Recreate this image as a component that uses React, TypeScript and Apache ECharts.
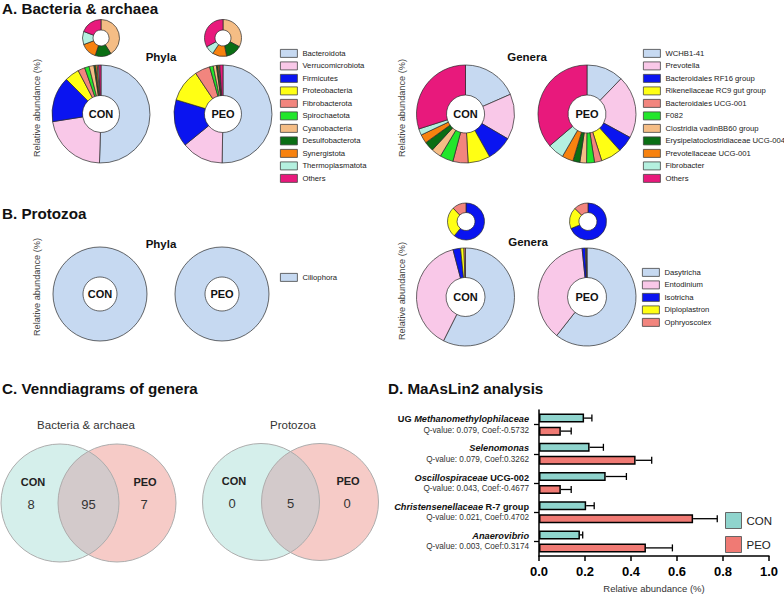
import React, { useEffect, useRef } from "react";
import * as echarts from "echarts";

const FONT = 'Arial, "Liberation Sans", Helvetica, sans-serif';

// ---------- Panel A: bacteria & archaea ----------
const phylaNames = ["Bacteroidota", "Verrucomicrobiota", "Firmicutes", "Proteobacteria", "Fibrobacterota", "Spirochaetota", "Cyanobacteria", "Desulfobacterota", "Synergistota", "Thermoplasmatota", "Others"];
const phylaCON = [50.5, 22.0, 15.0, 4.8, 2.3, 1.5, 1.6, 0.55, 0.55, 0.45, 0.75];
const phylaPEO = [50.3, 13.8, 15.6, 10.9, 5.0, 1.2, 1.05, 0.45, 0.4, 0.25, 1.05];
const phylaInsetFrom = 6;

const generaNames = ["WCHB1-41", "Prevotella", "Bacteroidales RF16 group", "Rikenellaceae RC9 gut group", "Bacteroidales UCG-001", "F082", "Clostridia vadinBB60 group", "Erysipelatoclostridiaceae UCG-004", "Prevotellaceae UCG-001", "Fibrobacter", "Others"];
const generaCON = [18.4, 15.0, 8.4, 7.3, 5.0, 4.4, 3.3, 3.2, 2.9, 2.1, 29.9];
const generaPEO = [12.2, 20.7, 5.4, 6.8, 2.4, 2.6, 2.2, 2.3, 3.7, 5.4, 36.2];

const palette = ["#c6d9f1", "#f9c8e8", "#0a14f0", "#ffff14", "#f2857e", "#22e62b", "#f5bd85", "#0a6e14", "#f7820f", "#b4f0df", "#e8197c"];

// ---------- Panel B: protozoa ----------
const protoPhylaNames = ["Ciliophora"];
const protoPhylaCON = [100];
const protoPhylaPEO = [100];
const protoGeneraNames = ["Dasytricha", "Entodinium", "Isotricha", "Diploplastron", "Ophryoscolex"];
const protoGeneraCON = [57.4, 38.5, 2.5, 1.1, 0.5];
const protoGeneraPEO = [60.6, 37.8, 1.1, 0.3, 0.2];
const protoInsetFrom = 2;
const protoPalette = ["#c6d9f1", "#f9c8e8", "#0a14f0", "#ffff14", "#f2857e"];

// ---------- Panel C: Venn ----------
const vennGroups = ["CON", "PEO"];
const vennBacteria = [8, 95, 7];
const vennProtozoa = [0, 5, 0];

// ---------- Panel D: MaAsLin2 ----------
const taxaLead = ["UG ", "", "", "", ""];
const taxaItalic = ["Methanomethylophilaceae", "Selenomonas", "Oscillospiraceae", "Christensenellaceae", "Anaerovibrio"];
const taxaTail = ["", "", " UCG-002", " R-7 group", ""];
const qValues = ["0.079", "0.079", "0.043", "0.021", "0.003"];
const coefs = ["-0.5732", "0.3262", "-0.4677", "0.4702", "0.3174"];
const conMean = [0.196, 0.22, 0.29, 0.205, 0.178];
const conErr = [0.034, 0.06, 0.09, 0.035, 0.012];
const peoMean = [0.095, 0.42, 0.095, 0.67, 0.465];
const peoErr = [0.045, 0.07, 0.045, 0.105, 0.115];

const CON_COLOR = "#8fd4cd";
const PEO_COLOR = "#f07a74";

function pie(center: number[], radius: number[], names: string[], values: number[], colors: string[]) {
  return {
    type: "pie",
    center,
    radius,
    startAngle: 90,
    clockwise: true,
    silent: true,
    avoidLabelOverlap: false,
    minAngle: 0,
    label: { show: false },
    labelLine: { show: false },
    emphasis: { disabled: true },
    itemStyle: { borderColor: "#2a2a2a", borderWidth: 0.7 },
    data: names.map((n, i) => ({ name: n, value: values[i], itemStyle: { color: colors[i] } })),
  };
}

function txt(text: string, x: number, y: number, size: number, o: any = {}) {
  const align = o.align || "center";
  return {
    type: "text",
    x,
    y,
    silent: true,
    rotation: o.rot || 0,
    z: 100,
    style: {
      text,
      fontFamily: FONT,
      fontSize: size,
      fontWeight: o.bold ? "bold" : "normal",
      fill: o.color || "#111",
      textAlign: align,
      align,
      textVerticalAlign: "middle",
      verticalAlign: "middle",
    },
  };
}

function lensPath(r: number, d: number) {
  const h = Math.sqrt(r * r - (d / 2) * (d / 2));
  return `M 0 ${-h} A ${r} ${r} 0 0 1 0 ${h} A ${r} ${r} 0 0 1 0 ${-h} Z`;
}

function venn(lensType: string, cx1: number, cx2: number, cy: number, r: number, title: string, titleX: number, counts: number[]) {
  const mid = (cx1 + cx2) / 2;
  const els: any[] = [
    { type: "circle", shape: { cx: cx1, cy, r }, style: { fill: "#d5efeb" }, silent: true, z: 10 },
    { type: "circle", shape: { cx: cx2, cy, r }, style: { fill: "#f6cbc7" }, silent: true, z: 11 },
    { type: lensType, x: mid, y: cy, style: { fill: "#d3cacb" }, silent: true, z: 12 },
    { type: "circle", shape: { cx: cx1, cy, r }, style: { fill: "none", stroke: "#adadad", lineWidth: 1 }, silent: true, z: 13 },
    { type: "circle", shape: { cx: cx2, cy, r }, style: { fill: "none", stroke: "#adadad", lineWidth: 1 }, silent: true, z: 13 },
    txt(title, titleX, 425, 11.5, { color: "#333" }),
    txt(vennGroups[0], cx1 - 27, cy - 21, 11, { bold: true, color: "#222" }),
    txt(vennGroups[1], cx2 + 28, cy - 21, 11, { bold: true, color: "#222" }),
    txt(String(counts[0]), cx1 - 29, cy + 1, 13, { color: "#333" }),
    txt(String(counts[1]), mid, cy + 1, 13, { color: "#333" }),
    txt(String(counts[2]), cx2 + 27, cy + 1, 13, { color: "#333" }),
  ];
  return els;
}

let shapesRegistered = false;
function registerShapes() {
  if (shapesRegistered) return;
  echarts.graphic.registerShape("lensBact", echarts.graphic.extendPath(lensPath(59, 57), {}) as any);
  echarts.graphic.registerShape("lensProto", echarts.graphic.extendPath(lensPath(58.5, 59), {}) as any);
  shapesRegistered = true;
}

export default function App() {
  const ref = useRef<HTMLDivElement>(null);

  useEffect(() => {
    if (!ref.current) return;
    document.body.style.margin = "0";
    registerShapes();

    const chart = echarts.init(ref.current, null, { renderer: "svg", width: 784, height: 595 });

    const legendBase: any = {
      orient: "vertical",
      itemWidth: 17,
      itemHeight: 8,
      itemGap: 3.7,
      icon: "rect",
      selectedMode: false,
      padding: 0,
      textStyle: { fontFamily: FONT, fontSize: 7.7, color: "#1a1a1a", lineHeight: 8 },
      itemStyle: { borderColor: "#444", borderWidth: 0.8 },
    };

    const errSeries = (name: string, means: number[], errs: number[], off: number) => ({
      type: "custom",
      name,
      xAxisIndex: 0,
      yAxisIndex: 0,
      z: 5,
      silent: true,
      data: means.map((m, i) => [m, i, errs[i]]),
      encode: { x: 0, y: 1 },
      renderItem: (params: any, api: any) => {
        const m = api.value(0);
        const c = api.value(1);
        const e = api.value(2);
        const p0 = api.coord([m, c]);
        const p1 = api.coord([m + e, c]);
        const y = p0[1] + off;
        const st = { stroke: "#000", lineWidth: 1.3 };
        return {
          type: "group",
          children: [
            { type: "line", shape: { x1: p0[0], y1: y, x2: p1[0], y2: y }, style: st },
            { type: "line", shape: { x1: p1[0], y1: y - 3.5, x2: p1[0], y2: y + 3.5 }, style: st },
          ],
        };
      },
    });

    const option: any = {
      animation: false,
      backgroundColor: "#ffffff",
      textStyle: { fontFamily: FONT },
      legend: [
        { ...legendBase, left: 280, top: 49, data: phylaNames },
        { ...legendBase, left: 643, top: 49, data: generaNames },
        { ...legendBase, left: 280, top: 273, data: protoPhylaNames },
        { ...legendBase, left: 642, top: 268, data: protoGeneraNames },
        {
          orient: "vertical",
          left: 725,
          top: 512,
          itemWidth: 16,
          itemHeight: 16,
          itemGap: 7,
          icon: "rect",
          selectedMode: false,
          padding: 0,
          data: ["CON", "PEO"],
          textStyle: { fontFamily: FONT, fontSize: 11.5, color: "#222" },
          itemStyle: { borderColor: "#666", borderWidth: 1 },
        },
      ],
      grid: { left: 539, top: 410, width: 230, height: 146, containLabel: false },
      xAxis: {
        type: "value",
        min: 0,
        max: 1,
        interval: 0.2,
        splitLine: { show: false },
        axisLine: { show: true, lineStyle: { color: "#000", width: 1.5 } },
        axisTick: { show: true, length: 5, lineStyle: { color: "#000", width: 1.5 } },
        axisLabel: { formatter: (v: number) => v.toFixed(1), fontFamily: FONT, fontSize: 13, fontWeight: "bold", color: "#000", margin: 9 },
        name: "Relative abundance (%)",
        nameLocation: "middle",
        nameGap: 27,
        nameTextStyle: { fontFamily: FONT, fontSize: 9.5, color: "#333" },
      },
      yAxis: {
        type: "category",
        inverse: true,
        data: taxaItalic,
        axisLine: { show: true, lineStyle: { color: "#000", width: 1.5 } },
        axisTick: { show: true, alignWithLabel: true, length: 5, lineStyle: { color: "#000", width: 1.3 } },
        axisLabel: {
          margin: 10,
          formatter: (_v: string, i: number) => {
            let s = "";
            if (taxaLead[i]) s += `{b|${taxaLead[i]}}`;
            s += `{bi|${taxaItalic[i]}}`;
            if (taxaTail[i]) s += `{b|${taxaTail[i]}}`;
            s += `\n{n|Q-value: ${qValues[i]}, Coef:${coefs[i]}}`;
            return s;
          },
          rich: {
            b: { fontFamily: FONT, fontSize: 9.2, fontWeight: "bold", color: "#111", align: "right", lineHeight: 11 },
            bi: { fontFamily: FONT, fontSize: 9.2, fontWeight: "bold", fontStyle: "italic", color: "#111", align: "right", lineHeight: 11 },
            n: { fontFamily: FONT, fontSize: 8.2, color: "#333", align: "right", lineHeight: 11 },
          },
        },
      },
      series: [
        pie([101, 38], [8, 18.5], phylaNames.slice(phylaInsetFrom), phylaCON.slice(phylaInsetFrom), palette.slice(phylaInsetFrom)),
        pie([223, 38], [8, 18.5], phylaNames.slice(phylaInsetFrom), phylaPEO.slice(phylaInsetFrom), palette.slice(phylaInsetFrom)),
        pie([101, 114], [18.5, 49], phylaNames, phylaCON, palette),
        pie([223, 114], [18.5, 49], phylaNames, phylaPEO, palette),
        pie([465.5, 114], [19, 49], generaNames, generaCON, palette),
        pie([587, 114], [19, 49], generaNames, generaPEO, palette),
        pie([100, 294], [17, 47], protoPhylaNames, protoPhylaCON, protoPalette),
        pie([222, 294], [17, 47], protoPhylaNames, protoPhylaPEO, protoPalette),
        pie([466, 221.5], [9, 18.5], protoGeneraNames.slice(protoInsetFrom), protoGeneraCON.slice(protoInsetFrom), protoPalette.slice(protoInsetFrom)),
        pie([588, 221.5], [9, 18.5], protoGeneraNames.slice(protoInsetFrom), protoGeneraPEO.slice(protoInsetFrom), protoPalette.slice(protoInsetFrom)),
        pie([465.5, 297], [19.5, 49], protoGeneraNames, protoGeneraCON, protoPalette),
        pie([587, 297], [19.5, 49], protoGeneraNames, protoGeneraPEO, protoPalette),
        {
          type: "bar",
          name: "CON",
          data: conMean,
          barWidth: 9,
          barGap: "45%",
          silent: true,
          itemStyle: { color: CON_COLOR, borderColor: "#000", borderWidth: 1.5 },
        },
        {
          type: "bar",
          name: "PEO",
          data: peoMean,
          barWidth: 9,
          barGap: "45%",
          silent: true,
          itemStyle: { color: PEO_COLOR, borderColor: "#000", borderWidth: 1.5 },
        },
        errSeries("CON err", conMean, conErr, -6.5),
        errSeries("PEO err", peoMean, peoErr, 6.5),
      ],
      graphic: {
        elements: [
          txt("A. Bacteria & archaea", 2, 8, 15.2, { bold: true, align: "left" }),
          txt("B. Protozoa", 2, 213, 15.2, { bold: true, align: "left" }),
          txt("C. Venndiagrams of genera", 2, 388, 15.2, { bold: true, align: "left" }),
          txt("D. MaAsLin2 analysis", 388, 388, 15.2, { bold: true, align: "left" }),
          txt("Phyla", 161, 57, 11.5, { bold: true }),
          txt("Genera", 527, 57, 11.5, { bold: true }),
          txt("Phyla", 161, 244, 11.5, { bold: true }),
          txt("Genera", 528, 242, 11.5, { bold: true }),
          txt("Relative abundance (%)", 37, 108, 9.2, { rot: Math.PI / 2, color: "#444" }),
          txt("Relative abundance (%)", 402, 108, 9.2, { rot: Math.PI / 2, color: "#444" }),
          txt("Relative abundance (%)", 37, 287, 9.2, { rot: Math.PI / 2, color: "#444" }),
          txt("Relative abundance (%)", 401.5, 291, 9.2, { rot: Math.PI / 2, color: "#444" }),
          txt("CON", 101, 114, 11, { bold: true }),
          txt("PEO", 223, 114, 11, { bold: true }),
          txt("CON", 465.5, 114, 11, { bold: true }),
          txt("PEO", 587, 114, 11, { bold: true }),
          txt("CON", 100, 294, 11, { bold: true }),
          txt("PEO", 222, 294, 11, { bold: true }),
          txt("CON", 465.5, 297, 11, { bold: true }),
          txt("PEO", 587, 297, 11, { bold: true }),
          ...venn("lensBact", 60, 117, 503, 59, "Bacteria & archaea", 86, vennBacteria),
          ...venn("lensProto", 261, 320, 502, 58.5, "Protozoa", 293, vennProtozoa),
        ],
      },
    };

    chart.setOption(option);
    return () => chart.dispose();
  }, []);

  return <div ref={ref} style={{ position: "fixed", left: 0, top: 0, width: 784, height: 595, background: "#fff" }} />;
}
